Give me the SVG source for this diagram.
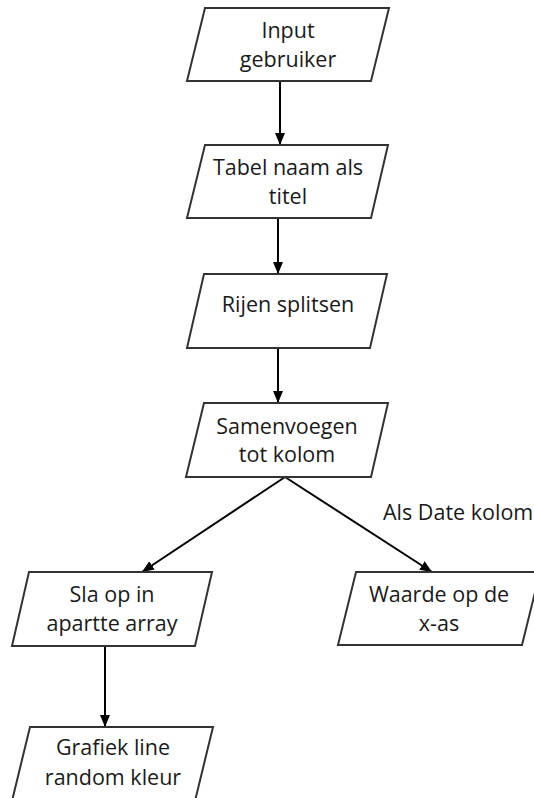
<svg xmlns="http://www.w3.org/2000/svg" width="534" height="798" viewBox="0 0 534 798">
  <style>
    .shape polygon { fill: #ffffff; stroke: #333333; stroke-width: 2; stroke-linejoin: miter; }
    .shape text, .label { font-family: "Open Sans", "Noto Sans", sans-serif; font-size: 21.5px; fill: #1a1a1a; text-anchor: middle; }
    .label { text-anchor: start; }
    .edge { stroke: #000000; stroke-width: 2; fill: none; marker-end: url(#arrow); }
  </style>
  <defs>
    <marker id="arrow" viewBox="0 0 12 10" refX="12" refY="5" markerWidth="12" markerHeight="10" markerUnits="userSpaceOnUse" orient="auto">
      <path d="M0,0 L12,5 L0,10 Z" fill="#000000"/>
    </marker>
  </defs>
  <rect width="534" height="798" fill="#ffffff"/>

  <g id="connectors">
    <line class="edge" x1="280" y1="81" x2="280" y2="145"/>
    <line class="edge" x1="278" y1="218" x2="278" y2="274"/>
    <line class="edge" x1="278" y1="348" x2="278" y2="403"/>
    <line class="edge" x1="285" y1="477" x2="142" y2="572"/>
    <line class="edge" x1="285" y1="477" x2="432" y2="572"/>
    <line class="edge" x1="105" y1="646" x2="105" y2="727"/>
    <text class="label" x="383" y="520">Als Date kolom</text>
  </g>

  <g id="input" class="shape">
    <polygon points="205,8 389,8 371,81 187,81"/>
    <text x="288" y="38">Input</text>
    <text x="288" y="67">gebruiker</text>
  </g>

  <g id="tabel" class="shape">
    <polygon points="205,145 388,145 371,218 187,218"/>
    <text x="288" y="175">Tabel naam als</text>
    <text x="288" y="204">titel</text>
  </g>

  <g id="rijen" class="shape">
    <polygon points="204,274 387,274 370,348 187,348"/>
    <text x="288" y="312">Rijen splitsen</text>
  </g>

  <g id="samenvoegen" class="shape">
    <polygon points="204,403 388,403 371,477 186,477"/>
    <text x="287" y="434">Samenvoegen</text>
    <text x="287" y="462">tot kolom</text>
  </g>

  <g id="array" class="shape">
    <polygon points="29,572 212,572 195,646 12,646"/>
    <text x="112" y="602">Sla op in</text>
    <text x="112" y="631">apartte array</text>
  </g>

  <g id="xas" class="shape">
    <polygon points="356,572 540,572 522,645 338,645"/>
    <text x="439" y="602">Waarde op de</text>
    <text x="439" y="631">x-as</text>
  </g>

  <g id="grafiek" class="shape">
    <polygon points="30,727 213,727 195,801 12,801"/>
    <text x="113" y="755">Grafiek line</text>
    <text x="113" y="785">random kleur</text>
  </g>
</svg>
